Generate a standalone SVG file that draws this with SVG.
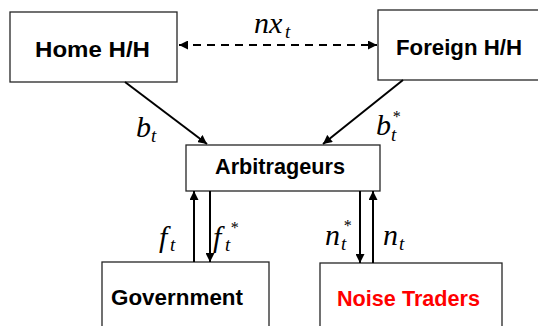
<svg xmlns="http://www.w3.org/2000/svg" width="538" height="326" viewBox="0 0 538 326">
<defs>
<style>
.box{fill:#fff;stroke:#262626;stroke-width:1.3}
.lbl{font-family:"Liberation Sans",Arial,sans-serif;font-weight:bold;font-size:22px;fill:#000}
.m{font-family:"Liberation Serif","Times New Roman",serif;font-style:italic;font-size:30px;fill:#000}
.s{font-size:19px}
.st{font-size:16px}
.edge{stroke:#000;stroke-width:2;fill:none}
</style>
<marker id="ah" viewBox="0 0 10 10" refX="10" refY="5" markerWidth="4.5" markerHeight="4.5" orient="auto-start-reverse" markerUnits="strokeWidth">
<path d="M0,0 L10,5 L0,10 z" fill="#000"/>
</marker>
</defs>
<rect width="538" height="326" fill="#fff"/>
<g id="home">
<rect class="box" x="10" y="12" width="167" height="70"/>
<text class="lbl" x="92.5" y="57" text-anchor="middle" textLength="115" lengthAdjust="spacingAndGlyphs">Home H/H</text>
</g>
<g id="foreign">
<rect class="box" x="378" y="10" width="170" height="70"/>
<text class="lbl" x="459" y="55" text-anchor="middle" textLength="126" lengthAdjust="spacingAndGlyphs">Foreign H/H</text>
</g>
<g id="arbitrageurs">
<rect class="box" x="186" y="145" width="194" height="46"/>
<text class="lbl" x="280" y="174" text-anchor="middle" textLength="130" lengthAdjust="spacingAndGlyphs">Arbitrageurs</text>
</g>
<g id="government">
<rect class="box" x="102" y="262" width="167" height="80"/>
<text class="lbl" x="177" y="305" text-anchor="middle" textLength="132" lengthAdjust="spacingAndGlyphs">Government</text>
</g>
<g id="noise">
<rect class="box" x="320" y="263" width="182" height="80"/>
<text class="lbl" x="408.5" y="306" text-anchor="middle" textLength="143" lengthAdjust="spacingAndGlyphs" style="fill:#ff0000">Noise Traders</text>
</g>
<g id="connectors">
<line class="edge" x1="179" y1="45" x2="377" y2="45" stroke-dasharray="8,6" marker-start="url(#ah)" marker-end="url(#ah)"/>
<line class="edge" x1="125" y1="82" x2="207" y2="144" marker-end="url(#ah)"/>
<line class="edge" x1="403" y1="80" x2="323" y2="144" marker-end="url(#ah)"/>
<line class="edge" x1="194" y1="262" x2="194" y2="191" marker-end="url(#ah)"/>
<line class="edge" x1="210" y1="191" x2="210" y2="262" marker-end="url(#ah)"/>
<line class="edge" x1="360" y1="191" x2="360" y2="263" marker-end="url(#ah)"/>
<line class="edge" x1="373" y1="263" x2="373" y2="191" marker-end="url(#ah)"/>
</g>
<g id="labels">
<text class="m" x="254" y="33">nx<tspan class="s" x="285" y="38">t</tspan></text>
<text class="m" x="136" y="137">b<tspan class="s" x="151" y="142">t</tspan></text>
<text class="m" x="376" y="135">b<tspan class="st" x="392" y="122">*</tspan><tspan class="s" x="391" y="141">t</tspan></text>
<text class="m" x="159" y="247">f<tspan class="s" x="170" y="251">t</tspan></text>
<text class="m" x="213" y="247">f<tspan class="st" x="230" y="233">*</tspan><tspan class="s" x="225" y="251">t</tspan></text>
<text class="m" x="325" y="245">n<tspan class="st" x="343" y="231">*</tspan><tspan class="s" x="341" y="250">t</tspan></text>
<text class="m" x="383" y="245">n<tspan class="s" x="399" y="250">t</tspan></text>
</g>
</svg>
